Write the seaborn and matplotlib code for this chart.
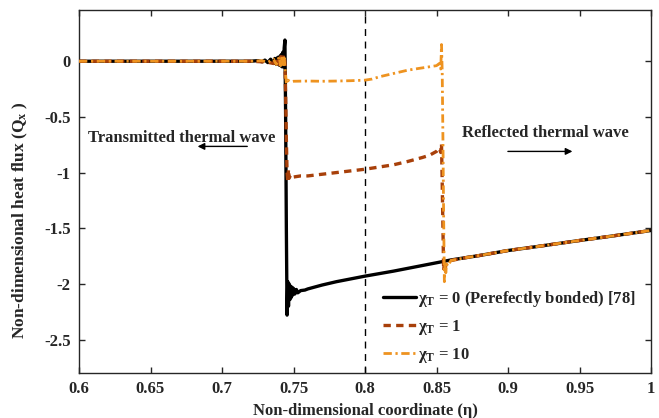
import matplotlib
matplotlib.use("Agg")
import matplotlib.pyplot as plt
import seaborn as sns
import pandas as pd

# ---------------- data ----------------
x_chi0 = [0.600, 0.650, 0.700, 0.720, 0.725, 0.728, 0.730, 0.732, 0.734, 0.736, 0.737, 0.738,
          0.739, 0.740, 0.7405, 0.741, 0.7415, 0.742, 0.7425, 0.743, 0.7435, 0.744, 0.7445,
          0.745, 0.7455, 0.746, 0.7465, 0.747, 0.7475, 0.748, 0.7485, 0.749, 0.7495, 0.750,
          0.751, 0.752, 0.753, 0.755, 0.758, 0.760, 0.770, 0.780, 0.790, 0.800, 0.820, 0.840,
          0.850, 0.860, 0.880, 0.900, 0.920, 0.950, 0.970, 1.000]
y_chi0 = [0.0, 0.0, 0.0, 0.0, 0.005, -0.005, 0.01, -0.012, 0.018, -0.02, 0.025, -0.028,
          0.035, -0.035, 0.045, -0.04, 0.06, -0.05, 0.08, -0.05, 0.12, 0.19, -0.5,
          -1.5, -2.28, -1.98, -2.2, -2.0, -2.14, -2.02, -2.12, -2.03, -2.1, -2.04,
          -2.09, -2.05, -2.08, -2.06, -2.055, -2.045, -2.01, -1.98, -1.955, -1.93, -1.885, -1.835,
          -1.81, -1.785, -1.745, -1.70, -1.665, -1.61, -1.575, -1.52]

x_chi1 = [0.600, 0.650, 0.700, 0.720, 0.728, 0.732, 0.736, 0.738, 0.740, 0.741, 0.742, 0.743,
          0.7435, 0.744, 0.7445, 0.745, 0.7455, 0.746, 0.7465, 0.747, 0.748, 0.749, 0.750,
          0.755, 0.760, 0.770, 0.780, 0.790, 0.800, 0.810, 0.820, 0.830, 0.840, 0.845,
          0.850, 0.852, 0.853, 0.8535, 0.854, 0.8545, 0.855, 0.8555, 0.856, 0.857, 0.858,
          0.860, 0.870, 0.880, 0.900, 0.920, 0.950, 0.970, 1.000]
y_chi1 = [0.0, 0.0, 0.0, 0.0, -0.005, -0.01, -0.02, 0.03, -0.03, 0.04, -0.04, 0.06,
          0.02, 0.0, -0.3, -0.7, -1.0, -1.08, -0.97, -1.05, -1.02, -1.04, -1.04,
          -1.03, -1.03, -1.015, -1.0, -0.985, -0.97, -0.95, -0.93, -0.9, -0.865, -0.845,
          -0.81, -0.78, -0.82, -0.74, -1.1, -1.5, -1.88, -1.8, -1.86, -1.81, -1.8,
          -1.79, -1.765, -1.745, -1.70, -1.665, -1.61, -1.575, -1.52]

x_chi10 = [0.600, 0.650, 0.700, 0.720, 0.728, 0.732, 0.736, 0.738, 0.740, 0.741, 0.742, 0.743,
           0.7435, 0.744, 0.7445, 0.745, 0.746, 0.748, 0.750, 0.760, 0.770, 0.780, 0.790,
           0.800, 0.805, 0.810, 0.820, 0.830, 0.840, 0.845, 0.850, 0.852, 0.853, 0.8535,
           0.854, 0.8545, 0.855, 0.8555, 0.856, 0.8565, 0.857, 0.858, 0.860, 0.870, 0.880,
           0.900, 0.920, 0.950, 0.970, 1.000]
y_chi10 = [0.0, 0.0, 0.0, 0.0, 0.005, -0.01, 0.02, -0.03, 0.04, -0.04, 0.05, -0.05,
           0.03, -0.05, -0.12, -0.2, -0.17, -0.185, -0.18, -0.178, -0.18, -0.178, -0.175,
           -0.17, -0.16, -0.14, -0.11, -0.08, -0.06, -0.05, -0.04, -0.02, -0.07, 0.15,
           -0.1, -0.7, -1.4, -1.98, -1.8, -1.9, -1.82, -1.84, -1.79, -1.765, -1.745,
           -1.70, -1.665, -1.61, -1.575, -1.52]

labels = ["χ$_\\mathrm{T}$ = 0 (Perefectly bonded) [78]",
          "χ$_\\mathrm{T}$ = 1",
          "χ$_\\mathrm{T}$ = 10"]
x_ticks = [0.6, 0.65, 0.7, 0.75, 0.8, 0.85, 0.9, 0.95, 1.0]
x_ticklabels = ["0.6", "0.65", "0.7", "0.75", "0.8", "0.85", "0.9", "0.95", "1"]
y_ticks = [0, -0.5, -1, -1.5, -2, -2.5]
y_ticklabels = ["0", "-0.5", "-1", "-1.5", "-2", "-2.5"]

# ---------------- style ----------------
sns.set_style("ticks")
plt.rcParams["font.family"] = ["Liberation Serif", "DejaVu Serif"]
plt.rcParams["font.weight"] = "bold"
plt.rcParams["mathtext.fontset"] = "custom"
plt.rcParams["mathtext.rm"] = "Liberation Serif:bold"
plt.rcParams["mathtext.it"] = "Liberation Serif:italic:bold"
plt.rcParams["mathtext.bf"] = "Liberation Serif:bold"

fig = plt.figure(figsize=(6.59, 4.18), dpi=100)
ax = fig.add_axes([79 / 659, 1 - 373 / 418, (651 - 79) / 659, (373 - 10) / 418])

ax.axvline(0.8, color="black", linestyle=(0, (5, 4)), linewidth=1.0, zorder=1)

series = [
    (x_chi0, y_chi0, "#000000", "-", 2.4),
    (x_chi1, y_chi1, "#A8400A", (0, (2.2, 1.6)), 2.4),
    (x_chi10, y_chi10, "#EE9320", (0, (3, 1.3, 0.8, 1.3)), 2.0),
]
handles = []
for (xs, ys, c, ls, lw), lab in zip(series, labels):
    df = pd.DataFrame({"x": xs, "y": ys})
    sns.lineplot(data=df, x="x", y="y", ax=ax, color=c, linewidth=lw,
                 estimator=None, sort=False, zorder=3)
    line = ax.lines[-1]
    line.set_linestyle(ls)
    line.set_label(lab)
    handles.append(line)

ax.set_xlim(0.6, 1.0)
ax.set_ylim(-2.8, 0.46)
ax.set_xticks(x_ticks)
ax.set_xticklabels(x_ticklabels)
ax.set_yticks(y_ticks)
ax.set_yticklabels(y_ticklabels)
ax.tick_params(direction="in", top=True, right=True, length=4, width=1,
               labelsize=12, pad=6)
for lab in ax.get_xticklabels() + ax.get_yticklabels():
    lab.set_fontweight("bold")
for sp in ax.spines.values():
    sp.set_linewidth(1.0)
    sp.set_visible(True)

ax.set_xlabel("Non-dimensional coordinate (η)", fontsize=12, fontweight="bold", labelpad=4)
ax.set_ylabel("Non-dimensional heat flux (Q$_\\mathrm{x}$ )", fontsize=12.5,
              fontweight="bold", labelpad=6)
ax.yaxis.set_label_coords(-0.085, 0.42)

ax.text(0.606, -0.69, "Transmitted thermal wave", fontsize=12, fontweight="bold",
        ha="left", va="center")
ax.annotate("", xy=(0.681, -0.765), xytext=(0.7196, -0.765),
            arrowprops=dict(arrowstyle="-|>", color="black", lw=1.0, mutation_scale=10))
ax.text(0.8675, -0.645, "Reflected thermal wave", fontsize=12, fontweight="bold",
        ha="left", va="center")
ax.annotate("", xy=(0.947, -0.81), xytext=(0.898, -0.81),
            arrowprops=dict(arrowstyle="-|>", color="black", lw=1.0, mutation_scale=10))

leg = ax.legend(handles=handles, loc="upper left", bbox_to_anchor=(0.531, 0.232),
                frameon=False, fontsize=12, handlelength=2.0, handletextpad=0.1,
                labelspacing=0.55, borderaxespad=0, borderpad=0)
for t in leg.get_texts():
    t.set_fontweight("bold")

fig.savefig("out.png", dpi=100)
